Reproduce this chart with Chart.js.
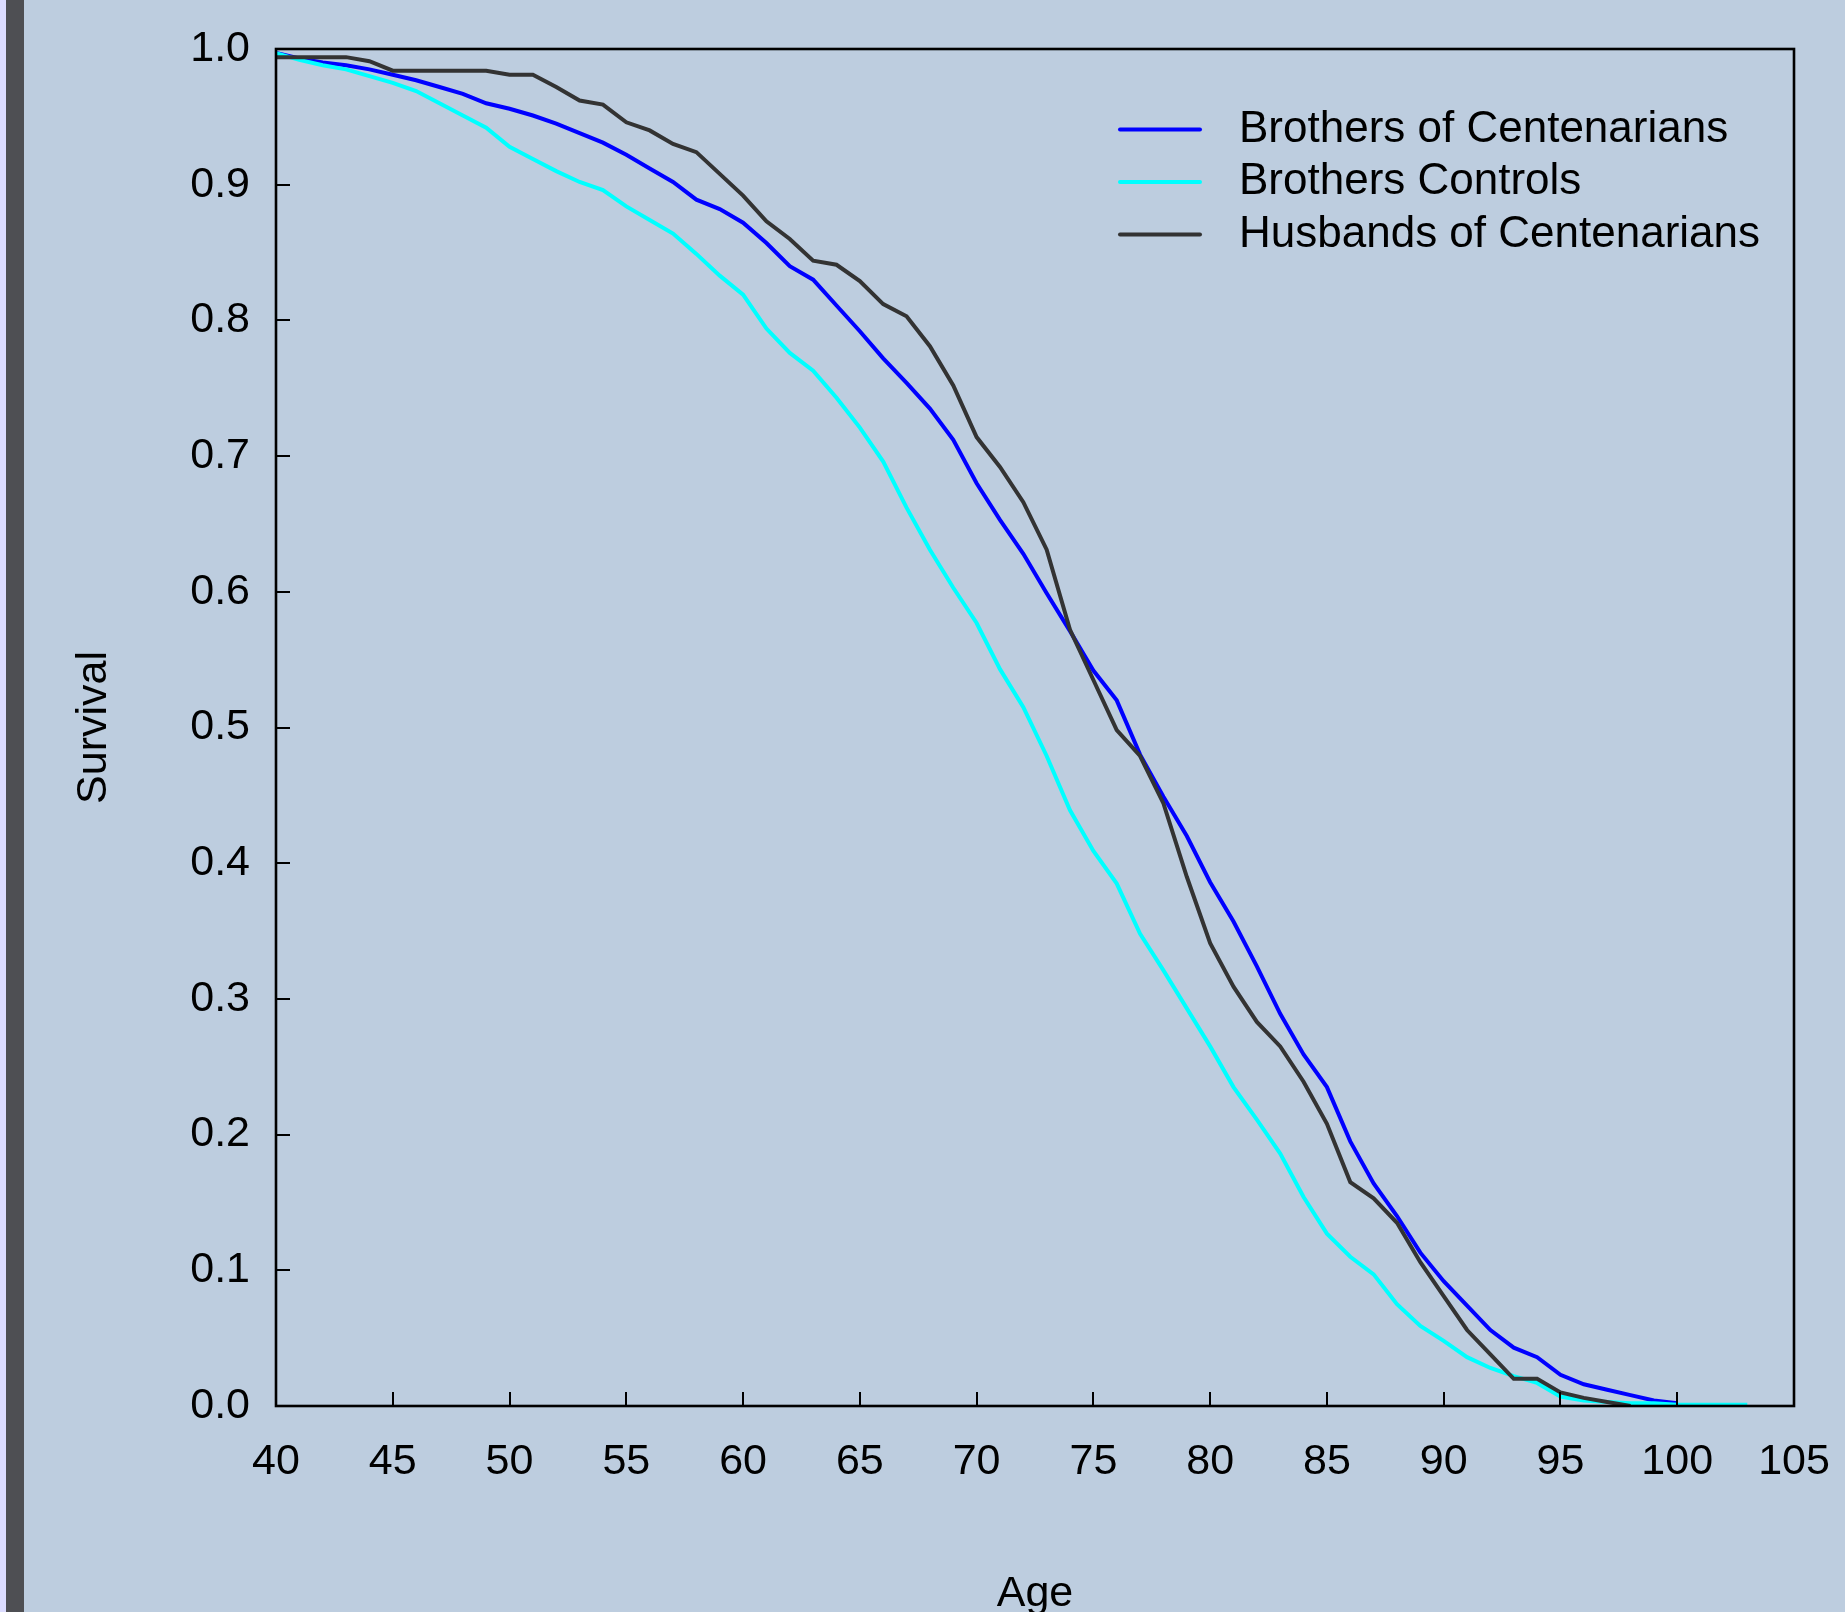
<!DOCTYPE html>
<html>
<head>
<meta charset="utf-8">
<title>Survival</title>
<script src="https://cdn.jsdelivr.net/npm/chart.js@4.4.1/dist/chart.umd.min.js"></script>
<style>
  body { margin: 0; background: #bdcddf; overflow: hidden; }
  #faixa { position: absolute; left: 0; top: 0; width: 6px; height: 1612px; background: #dcdcff; }
  #barra { position: absolute; left: 6px; top: 0; width: 18px; height: 1612px; background: #4e4f53; }
  #grafico { position: absolute; left: 0; top: 0; }
</style>
</head>
<body>
<div id="faixa"></div><div id="barra"></div>
<canvas id="grafico" width="1845" height="1612"></canvas>
<script>
// ages (x) and survival of each group
const ages = [40, 41, 42, 43, 44, 45, 46, 47, 48, 49,
  50, 51, 52, 53, 54, 55, 56, 57, 58, 59,
  60, 61, 62, 63, 64, 65, 66, 67, 68, 69,
  70, 71, 72, 73, 74, 75, 76, 77, 78, 79,
  80, 81, 82, 83, 84, 85, 86, 87, 88, 89,
  90, 91, 92, 93, 94, 95, 96, 97, 98, 99,
  100, 101, 102, 103]

const brothersCent = [0.997, 0.993, 0.990, 0.988, 0.985, 0.981, 0.977, 0.972, 0.967, 0.960,
  0.956, 0.951, 0.945, 0.938, 0.931, 0.922, 0.912, 0.902, 0.889, 0.882,
  0.872, 0.857, 0.840, 0.830, 0.811, 0.792, 0.772, 0.754, 0.735, 0.712,
  0.680, 0.653, 0.628, 0.599, 0.571, 0.542, 0.520, 0.480, 0.449, 0.420,
  0.386, 0.357, 0.324, 0.289, 0.259, 0.235, 0.195, 0.164, 0.140, 0.113,
  0.092, 0.074, 0.056, 0.043, 0.036, 0.023, 0.016, 0.012, 0.008, 0.004,
  0.002, null, null, null]

const brothersCtrl = [0.997, 0.992, 0.988, 0.985, 0.980, 0.975, 0.969, 0.960, 0.951, 0.942,
  0.928, 0.919, 0.910, 0.902, 0.896, 0.884, 0.874, 0.864, 0.849, 0.833,
  0.819, 0.794, 0.776, 0.763, 0.743, 0.721, 0.696, 0.662, 0.631, 0.603,
  0.577, 0.543, 0.515, 0.479, 0.439, 0.409, 0.385, 0.348, 0.321, 0.293,
  0.265, 0.235, 0.211, 0.186, 0.154, 0.127, 0.110, 0.097, 0.075, 0.059,
  0.048, 0.036, 0.028, 0.022, 0.017, 0.007, 0.004, 0.003, 0.002, 0.002,
  0.001, 0.001, 0.001, 0.001]

const husbandsCent = [0.994, 0.994, 0.994, 0.994, 0.991, 0.984, 0.984, 0.984, 0.984, 0.984,
  0.981, 0.981, 0.972, 0.962, 0.959, 0.946, 0.940, 0.930, 0.924, 0.908,
  0.892, 0.873, 0.860, 0.844, 0.841, 0.829, 0.812, 0.803, 0.781, 0.752,
  0.714, 0.692, 0.666, 0.631, 0.572, 0.535, 0.498, 0.479, 0.444, 0.390,
  0.341, 0.309, 0.283, 0.265, 0.239, 0.208, 0.165, 0.153, 0.135, 0.106,
  0.081, 0.056, 0.038, 0.020, 0.020, 0.010, 0.006, 0.003, 0.000, null,
  null, null, null, null]

const xTicks = [40, 45, 50, 55, 60, 65, 70, 75, 80, 85, 90, 95, 100, 105]
const yTicks = [0, 0.1, 0.2, 0.3, 0.4, 0.5, 0.6, 0.7, 0.8, 0.9, 1.0]

function pontos(valores) {
  return ages.map((a, i) => ({ x: a, y: valores[i] })).filter(p => p.y !== null)
}

Chart.defaults.font.family = '"Liberation Sans", Arial, sans-serif'
Chart.defaults.color = '#000'

// box round the plot + inward tick marks (bottom and left only)
const moldura = {
  id: 'moldura',
  afterDatasetsDraw(chart) {
    const { ctx, chartArea: a, scales } = chart
    ctx.save()
    ctx.strokeStyle = '#000'
    ctx.lineWidth = 2
    ctx.beginPath()
    scales.x.ticks.forEach(t => {
      const px = Math.round(scales.x.getPixelForValue(t.value))
      ctx.moveTo(px, a.bottom)
      ctx.lineTo(px, a.bottom - 14)
    })
    scales.y.ticks.forEach(t => {
      const py = Math.round(scales.y.getPixelForValue(t.value))
      ctx.moveTo(a.left, py)
      ctx.lineTo(a.left + 14, py)
    })
    ctx.stroke()
    ctx.lineWidth = 2.6
    ctx.strokeRect(a.left, a.top, a.right - a.left, a.bottom - a.top)
    ctx.restore()
  }
}

// legend inside the plot, top right
const legenda = {
  id: 'legenda',
  afterDraw(chart) {
    const ctx = chart.ctx
    ctx.save()
    ctx.font = '44px "Liberation Sans", Arial, sans-serif'
    ctx.textBaseline = 'middle'
    ctx.textAlign = 'left'
    chart.data.datasets.forEach((ds, i) => {
      const y = 129.5 + i * 52.5
      ctx.strokeStyle = ds.borderColor
      ctx.lineWidth = 4
      ctx.lineCap = 'round'
      ctx.beginPath()
      ctx.moveTo(1120, y)
      ctx.lineTo(1200, y)
      ctx.stroke()
      ctx.fillStyle = '#000'
      ctx.fillText(ds.label, 1239, y)
    })
    ctx.restore()
  }
}

const ctx = document.getElementById('grafico').getContext('2d')
new Chart(ctx, {
  type: 'line',
  data: {
    datasets: [
      { label: 'Brothers of Centenarians', data: pontos(brothersCent), borderColor: '#0000ff', order: 2 },
      { label: 'Brothers Controls', data: pontos(brothersCtrl), borderColor: '#00ffff', order: 1 },
      { label: 'Husbands of Centenarians', data: pontos(husbandsCent), borderColor: '#333333', order: 0 }
    ]
  },
  options: {
    responsive: false,
    animation: false,
    layout: { padding: { top: 49, right: 51, left: 0, bottom: 0 } },
    elements: {
      line: { borderWidth: 4, tension: 0, fill: false },
      point: { radius: 0, hoverRadius: 0 }
    },
    plugins: {
      legend: { display: false },
      tooltip: { enabled: false }
    },
    scales: {
      x: {
        type: 'linear',
        min: 40,
        max: 105,
        grid: { display: false, drawTicks: false },
        border: { display: false },
        afterBuildTicks: s => { s.ticks = xTicks.map(v => ({ value: v })) },
        afterFit: s => { s.height = 206; s.paddingLeft = 0; s.paddingRight = 0 },
        ticks: { font: { size: 43 }, padding: 30, maxRotation: 0, autoSkip: false },
        title: { display: true, text: 'Age', font: { size: 43, lineHeight: 0.8 }, padding: { top: 0, bottom: 0.5 } }
      },
      y: {
        min: 0,
        max: 1,
        grid: { display: false, drawTicks: false },
        border: { display: false },
        afterBuildTicks: s => { s.ticks = yTicks.map(v => ({ value: v })) },
        afterFit: s => { s.width = 276; s.paddingTop = 0; s.paddingBottom = 0 },
        ticks: { font: { size: 43 }, padding: 26, callback: v => v.toFixed(1) },
        title: { display: true, text: 'Survival', font: { size: 43, lineHeight: 1 }, padding: { top: 73, bottom: 0 } }
      }
    }
  },
  plugins: [moldura, legenda]
})
</script>
</body>
</html>
